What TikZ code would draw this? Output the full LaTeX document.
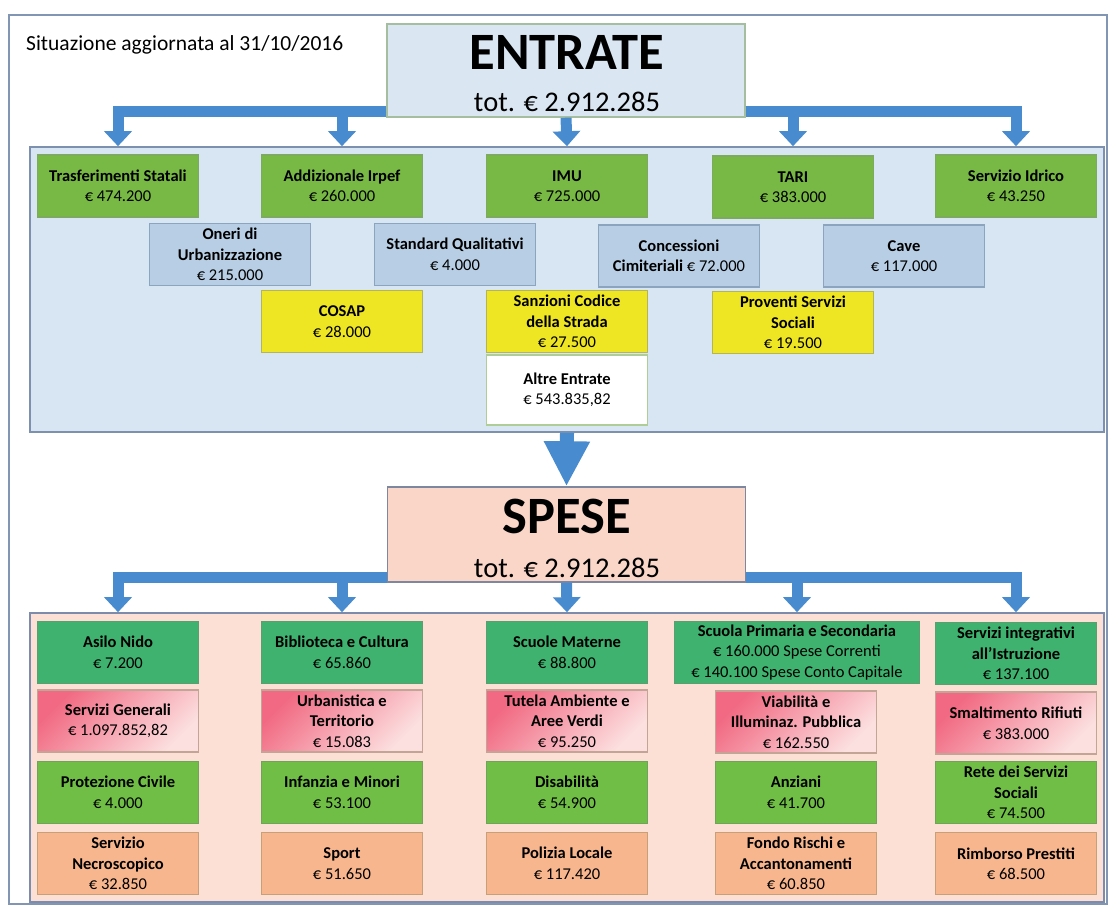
\documentclass[tikz,border=0pt]{standalone}
\usepackage{fontspec}
\setmainfont{Carlito}
\usetikzlibrary{arrows.meta}
\definecolor{arrowblue}{RGB}{72,139,207}
\definecolor{framec}{RGB}{130,150,180}
\definecolor{etitlefill}{RGB}{218,231,243}
\definecolor{etitledraw}{RGB}{165,190,160}
\definecolor{epanelfill}{RGB}{216,229,242}
\definecolor{epaneldraw}{RGB}{125,145,175}
\definecolor{egreen}{RGB}{120,184,68}
\definecolor{egreendraw}{RGB}{125,170,95}
\definecolor{eblue}{RGB}{183,206,229}
\definecolor{ebluedraw}{RGB}{140,165,190}
\definecolor{eyellow}{RGB}{238,229,35}
\definecolor{eyellowdraw}{RGB}{180,180,90}
\definecolor{ewhitedraw}{RGB}{175,205,150}
\definecolor{stitlefill}{RGB}{250,214,200}
\definecolor{stitledraw}{RGB}{125,135,160}
\definecolor{spanelfill}{RGB}{252,224,214}
\definecolor{spaneldraw}{RGB}{125,140,170}
\definecolor{steal}{RGB}{62,178,110}
\definecolor{stealdraw}{RGB}{90,160,110}
\definecolor{pinkA}{RGB}{241,105,130}
\definecolor{pinkB}{RGB}{252,224,224}
\definecolor{pinkdraw}{RGB}{195,165,150}
\definecolor{sgreen}{RGB}{112,190,70}
\definecolor{sgreendraw}{RGB}{110,165,90}
\definecolor{sorange}{RGB}{247,182,142}
\definecolor{sorangedraw}{RGB}{200,160,120}
\newcommand\nm[1]{\textbf{#1}}
\tikzset{
  box/.style={draw, line width=1.2pt, minimum width=161pt, minimum height=62pt,
    inner sep=0pt, align=center, text=black, font=\fontsize{16.5}{20.5}\selectfont},
  eg/.style={box, fill=egreen, draw=egreendraw},
  eb/.style={box, fill=eblue, draw=ebluedraw},
  ey/.style={box, fill=eyellow, draw=eyellowdraw},
  ew/.style={box, fill=white, draw=ewhitedraw, minimum height=70pt},
  st/.style={box, fill=steal, draw=stealdraw},
  sp/.style={box, draw=pinkdraw, top color=pinkA, bottom color=pinkB, shading angle=45},
  sg/.style={box, fill=sgreen, draw=sgreendraw},
  so/.style={box, fill=sorange, draw=sorangedraw},
  panel/.style={draw, line width=1.6pt, minimum width=1074pt, inner sep=0pt},
  bigtitle/.style={draw, line width=1.4pt, minimum width=358pt, minimum height=93pt, inner sep=0pt},
  headtext/.style={anchor=base, inner sep=0pt, font=\fontsize{52.5}{52.5}\selectfont\bfseries},
  tottext/.style={anchor=base, inner sep=0pt, font=\fontsize{28.5}{28.5}\selectfont},
  conn/.style={draw=arrowblue, line width=11pt, line join=miter,
    -{Triangle[length=15pt,width=27pt]}},
  bigconn/.style={draw=arrowblue, line width=14pt,
    -{Triangle[length=45pt,width=43pt]}},
}
\begin{document}
\begin{tikzpicture}[x=1pt,y=-1pt]
\useasboundingbox (0,0) rectangle (1110,906);
\fill[white] (0,0) rectangle (1110,906);
\draw[framec, line width=1.2pt] (9,15) rectangle (1107,904);

\node[anchor=base west, inner sep=0pt, font=\fontsize{21.5}{24}\selectfont] (stamp) at (26,50) {Situazione aggiornata al 31/10/2016};

% ENTRATE
\node[bigtitle, fill=etitlefill, draw=etitledraw] (entrate) at (566,70.5) {};
\node[headtext] (entrateT) at (567,69.5) {ENTRATE};
\node[tottext] (entrateV) at (567,111.5) {tot. € 2.912.285};

\node[panel, fill=epanelfill, draw=epaneldraw, minimum height=285pt] (epanel) at (567,289.5) {};

\node[eg] (trasf) at (118,186) {\nm{Trasferimenti Statali}\\€ 474.200};
\node[eg] (irpef) at (342,186) {\nm{Addizionale Irpef}\\€ 260.000};
\node[eg] (imu) at (567,186) {\nm{IMU}\\€ 725.000};
\node[eg] (tari) at (793,187) {\nm{TARI}\\€ 383.000};
\node[eg] (idrico) at (1016,186) {\nm{Servizio Idrico}\\€ 43.250};

\node[eb] (oneri) at (230,254.5) {\nm{Oneri di}\\\nm{Urbanizzazione}\\€ 215.000};
\node[eb] (standard) at (455,254.5) {\nm{Standard Qualitativi}\\€ 4.000};
\node[eb] (cimit) at (679,256) {\nm{Concessioni}\\\nm{Cimiteriali} € 72.000};
\node[eb] (cave) at (904,256) {\nm{Cave}\\€ 117.000};

\node[ey] (cosap) at (342,321.5) {\nm{COSAP}\\€ 28.000};
\node[ey] (sanzioni) at (567,321.5) {\nm{Sanzioni Codice}\\\nm{della Strada}\\€ 27.500};
\node[ey] (proventi) at (793,322.5) {\nm{Proventi Servizi}\\\nm{Sociali}\\€ 19.500};
\node[ew] (altre) at (567,390) {\nm{Altre Entrate}\\€ 543.835,82};

% SPESE
\node[bigtitle, fill=stitlefill, draw=stitledraw, minimum height=95pt] (spese) at (566.5,534.5) {};
\node[headtext] (speseT) at (567,533) {SPESE};
\node[tottext] (speseV) at (567,577) {tot. € 2.912.285};

\node[panel, fill=spanelfill, draw=spaneldraw, minimum height=289pt] (spanel) at (567,757.5) {};

\node[st] (asilo) at (118,652.5) {\nm{Asilo Nido}\\€ 7.200};
\node[st] (biblio) at (342,652.5) {\nm{Biblioteca e Cultura}\\€ 65.860};
\node[st] (materne) at (567,652.5) {\nm{Scuole Materne}\\€ 88.800};
\node[st, minimum width=245pt] (primaria) at (797,652.5) {\nm{Scuola Primaria e Secondaria}\\€ 160.000 Spese Correnti\\€ 140.100 Spese Conto Capitale};
\node[st] (integr) at (1016,653.5) {\nm{Servizi integrativi}\\\nm{all’Istruzione}\\€ 137.100};

\node[sp] (generali) at (118,721) {\nm{Servizi Generali}\\€ 1.097.852,82};
\node[sp] (urban) at (342,721) {\nm{Urbanistica e}\\\nm{Territorio}\\€ 15.083};
\node[sp] (tutela) at (567,721) {\nm{Tutela Ambiente e}\\\nm{Aree Verdi}\\€ 95.250};
\node[sp] (viab) at (796,722) {\nm{Viabilità e}\\\nm{Illuminaz. Pubblica}\\€ 162.550};
\node[sp] (rifiuti) at (1016,723) {\nm{Smaltimento Rifiuti}\\€ 383.000};

\node[sg] (protezione) at (118,792.5) {\nm{Protezione Civile}\\€ 4.000};
\node[sg] (infanzia) at (342,792.5) {\nm{Infanzia e Minori}\\€ 53.100};
\node[sg] (disab) at (567,792.5) {\nm{Disabilità}\\€ 54.900};
\node[sg] (anziani) at (796,792.5) {\nm{Anziani}\\€ 41.700};
\node[sg] (rete) at (1016,792.5) {\nm{Rete dei Servizi}\\\nm{Sociali}\\€ 74.500};

\node[so] (necro) at (118,863.5) {\nm{Servizio}\\\nm{Necroscopico}\\€ 32.850};
\node[so] (sport) at (342,863.5) {\nm{Sport}\\€ 51.650};
\node[so] (polizia) at (567,863.5) {\nm{Polizia Locale}\\€ 117.420};
\node[so] (fondo) at (796,863.5) {\nm{Fondo Rischi e}\\\nm{Accantonamenti}\\€ 60.850};
\node[so] (prestiti) at (1016,863.5) {\nm{Rimborso Prestiti}\\€ 68.500};

% connectors
\draw[conn] ([yshift=6pt]entrate.south west) -| (trasf.north |- epanel.north);
\draw[conn] ([yshift=6pt]entrate.south west) -| (irpef.north |- epanel.north);
\draw[conn] (entrate.south) -- (imu.north |- epanel.north);
\draw[conn] ([yshift=6pt]entrate.south east) -| (tari.north |- epanel.north);
\draw[conn] ([yshift=6pt]entrate.south east) -| (idrico.north |- epanel.north);

\draw[bigconn] (altre.south |- epanel.south) -- (spese.north);

\draw[conn] ([yshift=5pt]spese.south west) -| (asilo.north |- spanel.north);
\draw[conn] ([yshift=5pt]spese.south west) -| (biblio.north |- spanel.north);
\draw[conn] (spese.south) -- (materne.north |- spanel.north);
\draw[conn] ([yshift=5pt]spese.south east) -| (primaria.north |- spanel.north);
\draw[conn] ([yshift=5pt]spese.south east) -| (integr.north |- spanel.north);
\end{tikzpicture}
\end{document}
